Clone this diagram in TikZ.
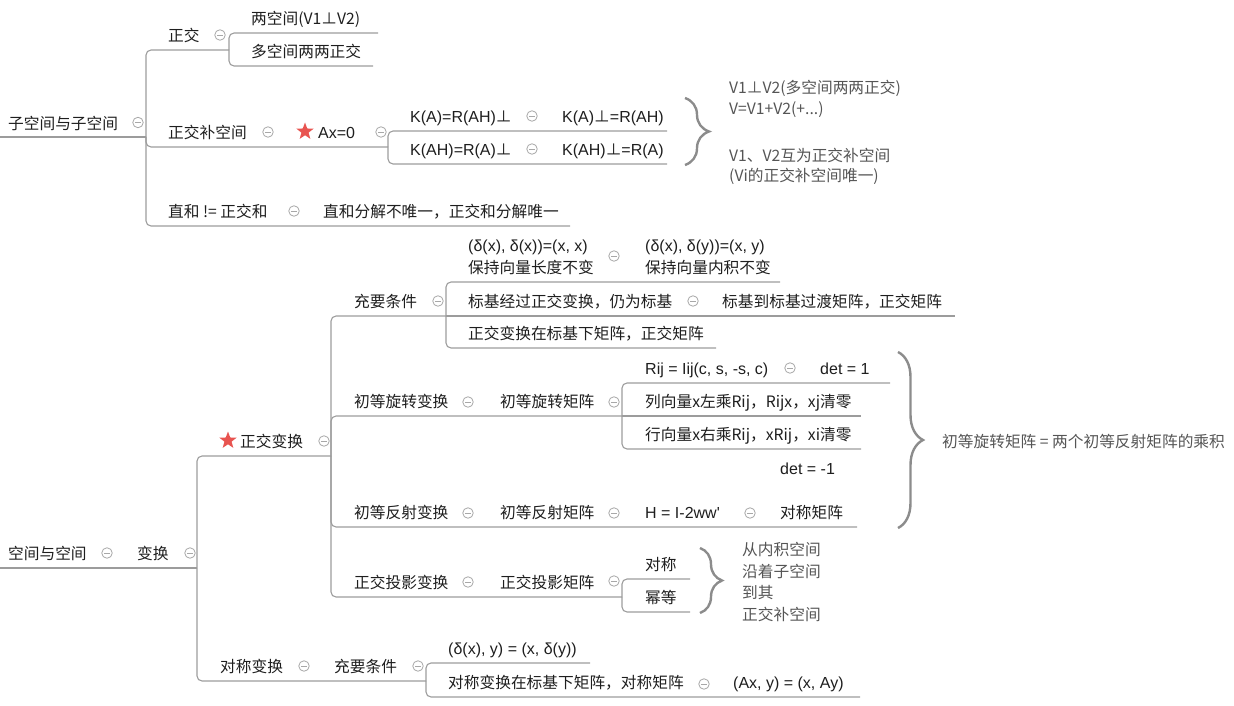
\documentclass[tikz,border=0pt]{standalone}
\usepackage{fontspec}
\setmainfont{Noto Sans CJK SC}[Ligatures=TeXOff]
\newfontfamily\latf{Liberation Sans}[Ligatures=TeXOff]
\newfontfamily\cjkf{Noto Sans CJK SC}[Ligatures=TeXOff]
\usetikzlibrary{shapes.geometric,decorations.pathreplacing}
\definecolor{txtc}{HTML}{1E1E1E}
\definecolor{notec}{HTML}{555555}
\definecolor{lnc}{HTML}{9C9C9C}
\definecolor{togc}{HTML}{A8A8A8}
\definecolor{brcc}{HTML}{8C8C8C}
\definecolor{starc}{HTML}{E85450}
\newcommand\perpc{{\fontsize{15.7}{19}\cjkf ⊥}}
\begin{document}
\begin{tikzpicture}[x=1pt,y=-1pt,
  t/.style={anchor=base west,inner sep=0pt,font=\fontsize{15.7}{19}\selectfont,text=txtc},
  lt/.style={t,font=\fontsize{16}{19}\selectfont\latf},
  nt/.style={t,text=notec},
  lnk/.style={draw=lnc,line width=1.1pt,rounded corners=5pt},
  tog/.style={circle,draw=togc,fill=white,line width=0.8pt,minimum size=10.5pt,inner sep=0pt,
    path picture={\draw[togc,line width=0.9pt] ([xshift=-2.6pt]path picture bounding box.center)--([xshift=2.6pt]path picture bounding box.center);}},
  star5/.style={star,star points=5,star point ratio=2.4,fill=starc,draw=none,minimum size=18pt,inner sep=0pt},
  brc/.style={draw=brcc,line width=2.4pt,decorate,decoration={brace,amplitude=#1}}]
\useasboundingbox (0,0) rectangle (1234,706);

% ---------------- tree 1 ----------------
\coordinate (J1) at (146,137);
\coordinate (J2) at (229,50);
\coordinate (J3) at (388,147);
\draw[lnk] (0,137) -- (J1);
\draw[lnk] (J1) |- (J2);
\draw[lnk] (J1) |- (J3);
\draw[lnk] (J1) |- (570,226);
\draw[lnk] (J2) |- (378,33);
\draw[lnk] (J2) |- (373,66);
\draw[lnk] (J3) |- (667,131);
\draw[lnk] (J3) |- (667,164);

\node[t] (r1) at (8,129.5) {子空间与子空间};
\node[tog] (g1) at (138,122.5) {};
\node[t] (a1) at (168,41.5) {正交};
\node[tog] (g2) at (220,35) {};
\node[t] (a11) at (251,24.5) {两空间(V1⊥V2)};
\node[t] (a12) at (251,57.5) {多空间两两正交};
\node[t] (a2) at (168,138.5) {正交补空间};
\node[tog] (g3) at (268,132) {};
\node[star5] (s1) at (305,131.5) {};
\node[lt] (a21) at (318,138.5) {Ax=0};
\node[tog] (g4) at (381,132) {};
\node[lt] (a211) at (410,122.5) {K(A)=R(AH)\perpc};
\node[tog] (g5) at (532,116) {};
\node[lt] (a2111) at (562,122.5) {K(A)\perpc=R(AH)};
\node[lt] (a212) at (410,155.5) {K(AH)=R(A)\perpc};
\node[tog] (g6) at (532,149) {};
\node[lt] (a2121) at (562,155.5) {K(AH)\perpc=R(A)};
\node[t] (a3) at (168,217.5) {直和 != 正交和};
\node[tog] (g7) at (294,211) {};
\node[t] (a31) at (323,217.5) {直和分解不唯一，正交和分解唯一};

\draw[brc=24pt] (685,98) -- (685,165);
\node[nt] (n1a) at (729,94) {V1⊥V2(多空间两两正交)};
\node[nt] (n1b) at (729,115) {V=V1+V2(+...)};
\node[nt] (n1c) at (729,161) {V1、V2互为正交补空间};
\node[nt] (n1d) at (729,182) {(Vi的正交补空间唯一)};

% ---------------- tree 2 ----------------
\coordinate (K1) at (197,568);
\coordinate (K2) at (331,456);
\coordinate (K3) at (446,316);
\coordinate (K4) at (622,416);
\coordinate (K5) at (622,597);
\coordinate (K6) at (426,681);
\draw[lnk] (0,568) -- (K1);
\draw[lnk] (K1) |- (K2);
\draw[lnk] (K1) |- (K6);
\draw[lnk] (K2) |- (K3);
\draw[lnk] (K2) |- (K4);
\draw[lnk] (K2) |- (857,527);
\draw[lnk] (K2) |- (K5);
\draw[lnk] (K3) |- (780,282);
\draw[lnk] (K3) -- (955,316);
\draw[lnk] (K3) |- (716,348);
\draw[lnk] (K4) |- (890,383);
\draw[lnk] (K4) -- (861,416);
\draw[lnk] (K4) |- (861,449);
\draw[lnk] (K5) |- (690,579);
\draw[lnk] (K5) |- (690,612);
\draw[lnk] (K6) |- (590,663);
\draw[lnk] (K6) |- (860,697);

\node[t] (r2) at (8,559.5) {空间与空间};
\node[tog] (h1) at (107,553) {};
\node[t] (b) at (137,559.5) {变换};
\node[tog] (h2) at (190,553) {};
\node[star5] (s2) at (228,440.5) {};
\node[t] (b1) at (240,447.5) {正交变换};
\node[tog] (h3) at (324,441) {};

\node[t] (b11) at (354,307.5) {充要条件};
\node[tog] (h4) at (438,301) {};
\node[lt] (b111a) at (468,251.5) {(δ(x), δ(x))=(x, x)};
\node[t] (b111b) at (468,273.5) {保持向量长度不变};
\node[tog] (h5) at (614,256) {};
\node[lt] (b1111a) at (645,251.5) {(δ(x), δ(y))=(x, y)};
\node[t] (b1111b) at (645,273.5) {保持向量内积不变};
\node[t] (b112) at (468,307.5) {标基经过正交变换，仍为标基};
\node[tog] (h6) at (693,301) {};
\node[t] (b1121) at (722,307.5) {标基到标基过渡矩阵，正交矩阵};
\node[t] (b113) at (468,339.5) {正交变换在标基下矩阵，正交矩阵};

\node[t] (b12) at (354,407.5) {初等旋转变换};
\node[tog] (h7) at (468,402) {};
\node[t] (b121) at (500,407.5) {初等旋转矩阵};
\node[tog] (h8) at (614,402) {};
\node[lt] (b1211) at (645,374.5) {Rij = Iij(c, s, -s, c)};
\node[tog] (h9) at (790,368) {};
\node[lt] (b12111) at (820,374.5) {det = 1};
\node[t] (b1212) at (645,407.5) {列向量x左乘Rij，Rijx，xj清零};
\node[t] (b1213) at (645,440.5) {行向量x右乘Rij，xRij，xi清零};

\node[t] (b13) at (354,518.5) {初等反射变换};
\node[tog] (h10) at (468,513) {};
\node[t] (b131) at (500,518.5) {初等反射矩阵};
\node[tog] (h11) at (614,513) {};
\node[lt] (b1311) at (645,518.5) {H = I-2ww'};
\node[tog] (h12) at (750,513) {};
\node[lt] (b13111a) at (780,474.5) {det = -1};
\node[t] (b13111b) at (780,518.5) {对称矩阵};

\draw[brc=25pt] (898,352) -- (898,528);
\node[nt] (n2) at (942,447) {初等旋转矩阵 = 两个初等反射矩阵的乘积};

\node[t] (b14) at (354,588.5) {正交投影变换};
\node[tog] (h13) at (468,582) {};
\node[t] (b141) at (500,588.5) {正交投影矩阵};
\node[tog] (h14) at (614,581) {};
\node[t] (b1411) at (645,570.5) {对称};
\node[t] (b1412) at (645,603.5) {幂等};
\draw[brc=22pt] (700,548) -- (700,613);
\node[nt] (n3a) at (742,555.5) {从内积空间};
\node[nt] (n3b) at (742,577) {沿着子空间};
\node[nt] (n3c) at (742,598.5) {到其};
\node[nt] (n3d) at (742,620) {正交补空间};

\node[t] (b2) at (220,672.5) {对称变换};
\node[tog] (h15) at (304,666) {};
\node[t] (b21) at (334,672.5) {充要条件};
\node[tog] (h16) at (418,666) {};
\node[lt] (b211) at (448,654.5) {(δ(x), y) = (x, δ(y))};
\node[t] (b212) at (448,688.5) {对称变换在标基下矩阵，对称矩阵};
\node[tog] (h17) at (704,684) {};
\node[lt] (b2121) at (733,688.5) {(Ax, y) = (x, Ay)};
\end{tikzpicture}
\end{document}
